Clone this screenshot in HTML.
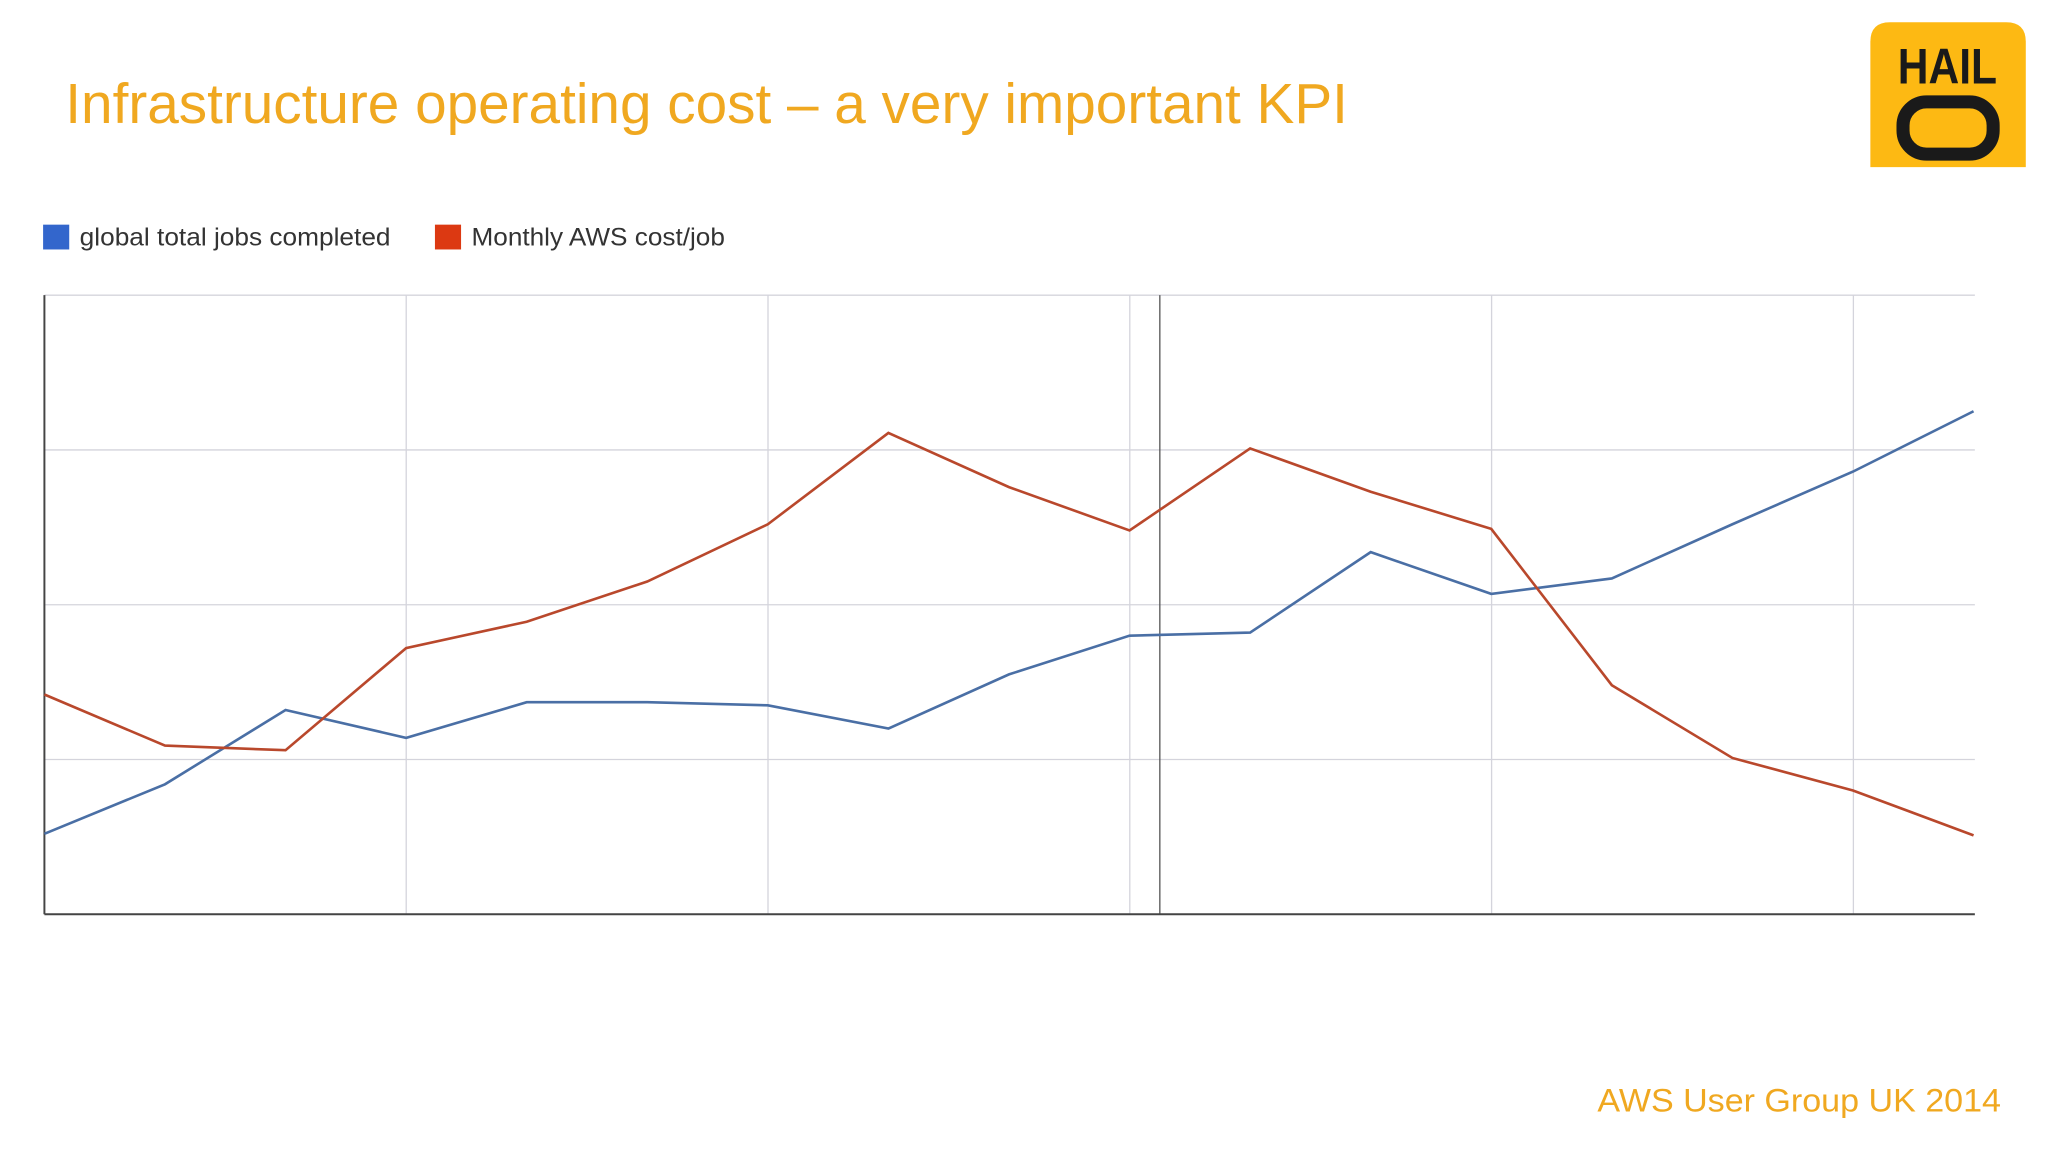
<!DOCTYPE html>
<html><head><meta charset="utf-8"><style>
html,body{margin:0;padding:0;background:#fff;}
svg{display:block;}
</style></head><body>
<svg id="slide" width="2048" height="1152" viewBox="0 0 1568 882" xmlns="http://www.w3.org/2000/svg" font-family="Liberation Sans, Arial, sans-serif">
<text x="50" y="94" font-size="43" fill="#F0A820" textLength="982" lengthAdjust="spacingAndGlyphs">Infrastructure operating cost – a very important KPI</text>
<g>
<path d="M1432 128 V32 Q1432 17 1447 17 H1536 Q1551 17 1551 32 V128 Z" fill="#FDB913"/>
<text x="1491" y="64" font-size="38" font-weight="bold" text-anchor="middle" fill="#1a1a1a" textLength="76" lengthAdjust="spacingAndGlyphs">HAIL</text>
<rect x="1457" y="78" width="69" height="40" rx="18" fill="none" stroke="#1a1a1a" stroke-width="10"/>
</g>
<g>
<rect x="33" y="172" width="20" height="19" fill="#3366CC"/>
<text x="61" y="188" font-size="19" fill="#333" textLength="238" lengthAdjust="spacingAndGlyphs">global total jobs completed</text>
<rect x="333" y="172" width="20" height="19" fill="#DC3912"/>
<text x="361" y="188" font-size="19" fill="#333" textLength="194" lengthAdjust="spacingAndGlyphs">Monthly AWS cost/job</text>
</g>
<g id="grid"></g>
<g id="series"></g>
<text x="1532" y="851" font-size="25" fill="#F0A820" text-anchor="end" textLength="309" lengthAdjust="spacingAndGlyphs">AWS User Group UK 2014</text>
</svg>
<script>
const jobsValues=[0.52,0.84,1.32,1.14,1.37,1.37,1.35,1.20,1.55,1.80,1.82,2.34,2.07,2.17,2.52,2.86,3.25];
const costValues=[1.42,1.09,1.06,1.72,1.89,2.15,2.52,3.11,2.76,2.48,3.01,2.73,2.49,1.48,1.01,0.80,0.51];
const yTicks=[1,2,3,4];
const vGridIdx=[3,6,9,12,15];
const NS='http://www.w3.org/2000/svg';
const L=34,R=1512,T=226,B=700,yMax=4;
const n=jobsValues.length;
const xs=i=>L+(1511-L)*i/(n-1);
const ys=v=>B-(B-T)*v/yMax;
const grid=document.getElementById('grid'),ser=document.getElementById('series');
function ln(p,x1,y1,x2,y2,c,w){const e=document.createElementNS(NS,'line');e.setAttribute('x1',x1);e.setAttribute('y1',y1);e.setAttribute('x2',x2);e.setAttribute('y2',y2);e.setAttribute('stroke',c);e.setAttribute('stroke-width',w);p.appendChild(e);return e;}
yTicks.forEach(t=>{const e=ln(grid,L,ys(t),R,ys(t),'#d4d4dc',1);

});
vGridIdx.forEach(i=>{const x=Math.round(xs(i));const e=ln(grid,x,T,x,B,'#d4d4dc',1);

});
const cur=ln(grid,888,T,888,B,'#555',1);


const ya=ln(grid,L,T,L,B,'#444',1.5);


const xa=ln(grid,L,B,R,B,'#444',1.5);


function poly(vals,c,name){const p=document.createElementNS(NS,'polyline');
p.setAttribute('points',vals.map((v,i)=>xs(i)+','+ys(v)).join(' '));
p.setAttribute('fill','none');p.setAttribute('stroke',c);p.setAttribute('stroke-width',2);


ser.appendChild(p);}
poly(jobsValues,'#4A6FA5','jobs-line');
poly(costValues,'#B9482C','cost-line');
</script>
</body></html>
